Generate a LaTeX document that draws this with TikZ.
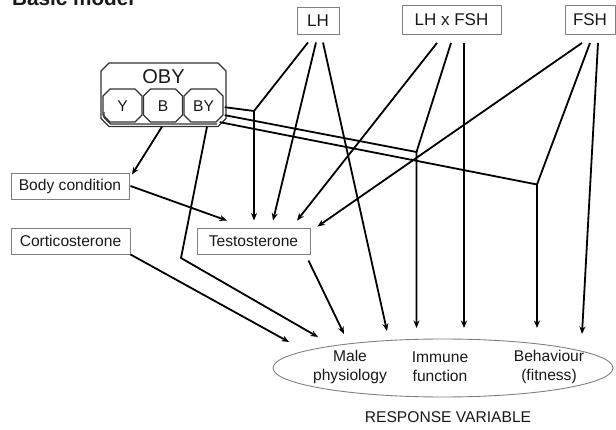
\documentclass[tikz,border=0pt]{standalone}
\usepackage{fontspec}
\setmainfont{Liberation Sans}
\usetikzlibrary{arrows.meta,shapes.geometric}
\begin{document}
\begin{tikzpicture}[x=1pt,y=-1pt,
  lbl/.style={font=\fontsize{15.6}{19}\selectfont, text=black!90, inner sep=0pt},
  gbox/.style={lbl, draw=black!50, line width=0.9pt, rectangle},
  topbox/.style={gbox, font=\fontsize{17}{20}\selectfont},
  octl/.style={draw=black!80, line width=1.3pt, line join=miter},
  conn/.style={line width=1.8pt, black, line join=round},
  arr/.style={conn, -{Stealth[length=7.5pt,width=6pt]}}]
\useasboundingbox (0,0) rectangle (616,430);

% title (cut at top)
\node[lbl, anchor=base west, font=\bfseries\fontsize{20.7}{24}\selectfont] (title) at (12,6) {Basic model};

% top factor boxes
\node[topbox, minimum width=42pt, minimum height=27pt] (lh) at (318,20.5) {LH};
\node[topbox, minimum width=99pt, minimum height=29pt] (lhfsh) at (451.5,20) {LH x FSH};
\node[topbox, minimum width=50pt, minimum height=29pt] (fsh) at (590,20) {FSH};

% OBY block
\node[minimum width=125pt, minimum height=63.5pt, inner sep=0pt] (oby) at (163.5,94.75) {};
\draw[octl] (109,63) -- (218,63) -- (226,71) -- (226,118.5) -- (218,126.5) -- (109,126.5) -- (101,118.5) -- (101,71) -- cycle;
\draw[octl] (104,112) -- (104,117.5) -- (110.5,124) -- (217,124);
\node[lbl, font=\fontsize{20}{24}\selectfont] (obyt) at (163.5,77) {OBY};
\foreach \n/\t/\cx in {yn/Y/122.5, bn/B/163, byn/BY/203.5}{
  \begin{scope}[shift={(\cx,105.5)}]
    \draw[octl] (-12.5,-16.5) -- (12.5,-16.5) -- (19.5,-9.5) -- (19.5,9.5) -- (12.5,16.5) -- (-12.5,16.5) -- (-19.5,9.5) -- (-19.5,-9.5) -- cycle;
  \end{scope}
  \node[lbl] (\n) at (\cx,106.5) {\t};
}

% left boxes
\node[gbox, minimum width=118pt, minimum height=26pt] (body) at (70,186) {Body condition};
\node[gbox, minimum width=119pt, minimum height=26pt] (cort) at (70.5,241) {Corticosterone};
\node[gbox, minimum width=113pt, minimum height=26pt] (test) at (253.5,241) {Testosterone};

% response ellipse
\node[ellipse, draw=black!50, line width=0.9pt, minimum width=340pt, minimum height=58pt, inner sep=0pt] (resp) at (443,368) {};
\node[lbl, align=center] (male) at (350,367) {Male\\physiology};
\node[lbl, align=center] (imm) at (440,367) {Immune\\function};
\node[lbl, align=center] (beh) at (549,367) {Behaviour\\(fitness)};
\node[lbl] (rv) at (448,417) {RESPONSE VARIABLE};

% junctions
\coordinate (j1) at (254,111);
\coordinate (j2) at (416.5,152);
\coordinate (j3) at (537,184.5);
\coordinate (bend) at (181,258);

% OBY connectors
\draw[arr] ([xshift=-1.5pt]oby.south) -- ([shift={(2.5,2)}]body.north east);
\draw[arr] ([xshift=43.5pt]oby.south) -- (bend) -- ([shift={(-125,-31)}]resp.center);
\draw[conn, line cap=round] ([shift={(-1,12.5)}]oby.east) -- (j1);
\draw[conn, line cap=round] ([shift={(-1,20.5)}]oby.east) -- (j2);
\draw[conn, line cap=round] ([shift={(-6,27.5)}]oby.east) -- (j3);

% left box connectors
\draw[arr] ([xshift=1pt]body.east) -- ([shift={(-26.5,-7)}]test.north);
\draw[arr] (cort.south east) -- ([shift={(-154,-26)}]resp.center);
\draw[arr] ([shift={(-2,6)}]test.south east) -- ([shift={(-99,-34)}]resp.center);

% LH
\draw[arr] ([shift={(-10,8)}]lh.south) -- (j1) -- ([shift={(0.5,-7)}]test.north);
\draw[arr] ([shift={(-2,8)}]lh.south) -- ([shift={(19.5,-7)}]test.north);
\draw[arr] ([shift={(5,8)}]lh.south) -- ([shift={(-56,-37)}]resp.center);

% LH x FSH
\draw[arr] ([shift={(-14.5,8)}]lhfsh.south) -- ([shift={(43.5,-7)}]test.north);
\draw[arr] ([shift={(-0.5,8)}]lhfsh.south) -- (j2) -- ([shift={(-26.5,-40)}]resp.center);
\draw[arr] ([shift={(12.5,8)}]lhfsh.south) -- ([shift={(21,-40)}]resp.center);

% FSH
\draw[arr] ([shift={(-8,8)}]fsh.south) -- ([shift={(7,-1)}]test.north east);
\draw[arr] ([shift={(0,8)}]fsh.south) -- (j3) -- ([shift={(94,-40)}]resp.center);
\draw[arr] ([shift={(8,8)}]fsh.south) -- ([shift={(139,-34)}]resp.center);
\end{tikzpicture}
\end{document}
